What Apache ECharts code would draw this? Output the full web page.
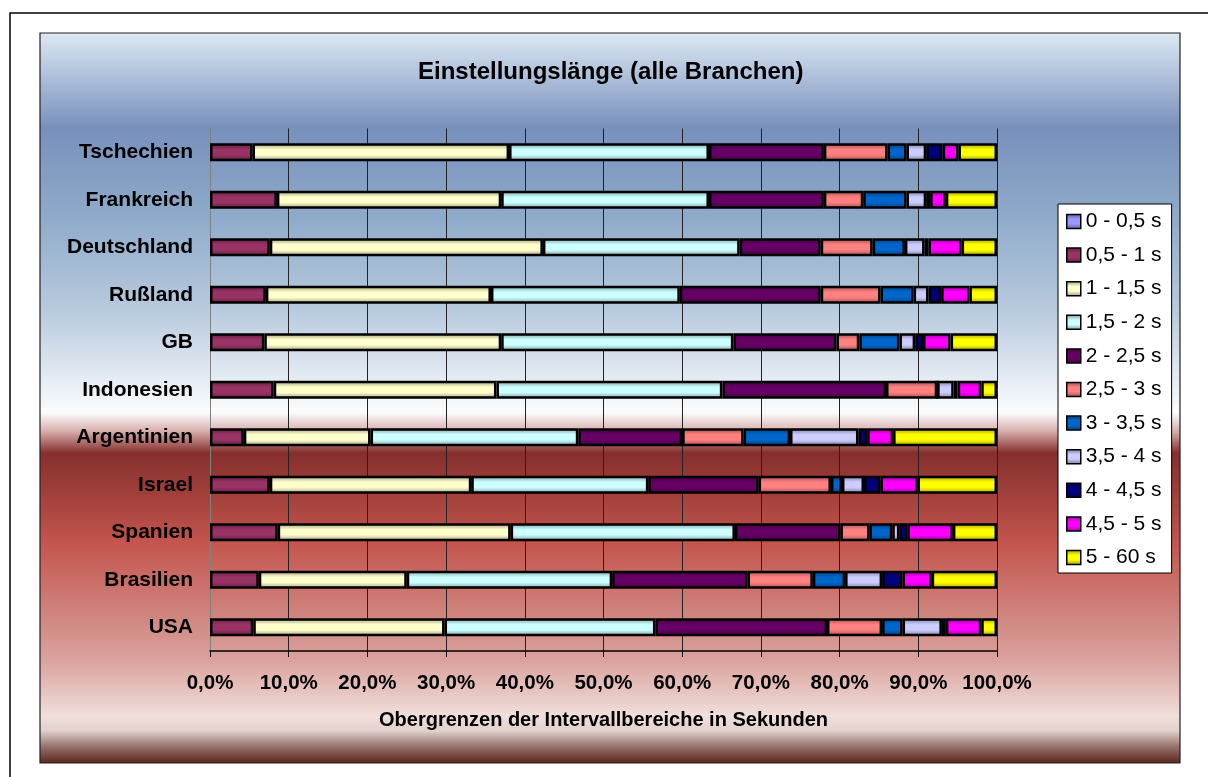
<!DOCTYPE html>
<html>
<head>
<meta charset="utf-8">
<title>Einstellungslänge</title>
<script src="https://cdn.jsdelivr.net/npm/echarts@6/dist/echarts.min.js"></script>
<style>
  html, body { margin: 0; padding: 0; background: #fff; }
  #chart { width: 1208px; height: 777px; }
</style>
</head>
<body>
<div id="chart"></div>
<script>
// Länder von oben nach unten
const countries = ['Tschechien', 'Frankreich', 'Deutschland', 'Rußland', 'GB', 'Indonesien',
  'Argentinien', 'Israel', 'Spanien', 'Brasilien', 'USA'];

const intervals = ['0 - 0,5 s', '0,5 - 1 s', '1 - 1,5 s', '1,5 - 2 s', '2 - 2,5 s', '2,5 - 3 s',
  '3 - 3,5 s', '3,5 - 4 s', '4 - 4,5 s', '4,5 - 5 s', '5 - 60 s'];

const xTicks = [0, 10, 20, 30, 40, 50, 60, 70, 80, 90, 100];

// Anteile in Prozent je Intervall
const s0_05 = [0, 0, 0, 0, 0, 0, 0, 0, 0, 0, 0];
const s05_1 = [5.4, 8.5, 7.6, 7.1, 6.9, 8.1, 4.3, 7.6, 8.6, 6.2, 5.5];
const s1_15 = [32.6, 28.5, 34.7, 28.6, 30.1, 28.3, 16.1, 25.6, 29.6, 18.8, 24.3];
const s15_2 = [25.4, 26.4, 25.0, 24.0, 29.5, 28.7, 26.4, 22.5, 28.5, 26.1, 26.8];
const s2_25 = [14.6, 14.6, 10.3, 17.9, 13.1, 20.8, 13.2, 14.0, 13.4, 17.2, 21.8];
const s25_3 = [8.1, 5.0, 6.6, 7.6, 2.9, 6.5, 7.8, 9.2, 3.7, 8.3, 7.0];
const s3_35 = [2.4, 5.5, 4.1, 4.2, 5.1, 0, 5.9, 1.4, 2.9, 4.1, 2.6];
const s35_4 = [2.5, 2.5, 2.5, 1.9, 2.0, 2.1, 8.7, 2.8, 0.9, 4.7, 5.0];
const s4_45 = [2.1, 0.5, 0.5, 1.6, 1.0, 0.5, 1.1, 2.1, 1.0, 2.6, 0.5];
const s45_5 = [2.0, 2.0, 4.2, 3.6, 3.5, 3.0, 3.3, 4.7, 5.8, 3.7, 4.5];
const s5_60 = [4.9, 6.5, 4.5, 3.5, 5.9, 2.0, 13.2, 10.1, 5.6, 8.3, 2.0];

const values = [s0_05, s05_1, s1_15, s15_2, s2_25, s25_3, s3_35, s35_4, s4_45, s45_5, s5_60];
const colors = ['#9999ff', '#993366', '#ffffcc', '#ccffff', '#660066', '#ff8080',
  '#0066cc', '#ccccff', '#000080', '#ff00ff', '#ffff00'];

const font = 'Liberation Sans, Arial, sans-serif';

function shade(hex, f) {
  const n = parseInt(hex.slice(1), 16);
  const r = Math.round(((n >> 16) & 255) * f);
  const g = Math.round(((n >> 8) & 255) * f);
  const b = Math.round((n & 255) * f);
  return `rgb(${r},${g},${b})`;
}

function barFill(c) {
  return new echarts.graphic.LinearGradient(0, 0, 0, 1, [
    { offset: 0, color: shade(c, 0.6) },
    { offset: 0.35, color: c },
    { offset: 0.65, color: c },
    { offset: 1, color: shade(c, 0.6) }
  ]);
}

const chart = echarts.init(document.getElementById('chart'));

const option = {
  animation: false,
  backgroundColor: '#fff',
  graphic: [
    {
      type: 'rect', z: -20, silent: true,
      shape: { x: 10, y: 13, width: 1300, height: 900 },
      style: { fill: '#fff', stroke: '#000', lineWidth: 1.5 }
    },
    {
      type: 'rect', z: -10, silent: true,
      shape: { x: 40, y: 33, width: 1140, height: 730 },
      style: {
        stroke: '#222', lineWidth: 1.2,
        fill: new echarts.graphic.LinearGradient(0, 0, 0, 1, [
          { offset: 0, color: '#dde9f3' },
          { offset: 0.13, color: '#7890bc' },
          { offset: 0.25, color: '#8eaac9' },
          { offset: 0.38, color: '#b8cade' },
          { offset: 0.48, color: '#e8eef5' },
          { offset: 0.52, color: '#fbfcfd' },
          { offset: 0.545, color: '#d8b0ae' },
          { offset: 0.575, color: '#86302e' },
          { offset: 0.63, color: '#a03f3a' },
          { offset: 0.70, color: '#c4564f' },
          { offset: 0.80, color: '#d08680' },
          { offset: 0.86, color: '#dba39e' },
          { offset: 0.935, color: '#f0dfdb' },
          { offset: 0.955, color: '#e2d0cc' },
          { offset: 0.975, color: '#9a7a72' },
          { offset: 1, color: '#5a2218' }
        ])
      }
    }
  ],
  title: {
    text: 'Einstellungslänge (alle Branchen)',
    left: 418,
    top: 60,
    padding: 0,
    textStyle: { fontFamily: font, fontSize: 24, fontWeight: 'bold', color: '#000' }
  },
  legend: {
    orient: 'vertical',
    left: 1058,
    top: 204,
    width: 114,
    padding: [7, 10, 5, 8],
    itemWidth: 14,
    itemHeight: 14,
    itemGap: 12.6,
    backgroundColor: '#fff',
    borderColor: '#000',
    borderWidth: 1,
    icon: 'rect',
    itemStyle: { borderColor: '#000', borderWidth: 1.5 },
    textStyle: { fontFamily: font, fontSize: 21, lineHeight: 21, color: '#000' },
    data: intervals
  },
  grid: { left: 210, right: 211, top: 128.5, bottom: 126 },
  xAxis: {
    type: 'value',
    min: xTicks[0],
    max: xTicks[xTicks.length - 1],
    interval: xTicks[1] - xTicks[0],
    name: 'Obergrenzen der Intervallbereiche in Sekunden',
    nameLocation: 'middle',
    nameGap: 59,
    nameTextStyle: { fontFamily: font, fontSize: 20, fontWeight: 'bold', color: '#000' },
    axisLine: { show: true, lineStyle: { color: '#000', width: 1.5 } },
    axisTick: { show: true, length: 6, lineStyle: { color: '#000' } },
    splitLine: { show: true, lineStyle: { color: '#222', width: 1 } },
    axisLabel: {
      margin: 22,
      fontFamily: font, fontSize: 20.5, fontWeight: 'bold', color: '#000',
      formatter: v => v.toFixed(1).replace('.', ',') + '%'
    }
  },
  yAxis: {
    type: 'category',
    inverse: true,
    data: countries,
    axisLine: { show: true, lineStyle: { color: '#808080', width: 1 } },
    axisTick: { show: false },
    axisLabel: { margin: 17, fontFamily: font, fontSize: 21, fontWeight: 'bold', color: '#000' }
  },
  series: intervals.map((name, i) => ({
    name: name,
    type: 'bar',
    stack: 'total',
    barWidth: 18,
    data: values[i],
    color: colors[i],
    itemStyle: { color: barFill(colors[i]), borderColor: '#000', borderWidth: i === 0 ? 0 : 2.5 }
  }))
};

chart.setOption(option);
</script>
</body>
</html>
